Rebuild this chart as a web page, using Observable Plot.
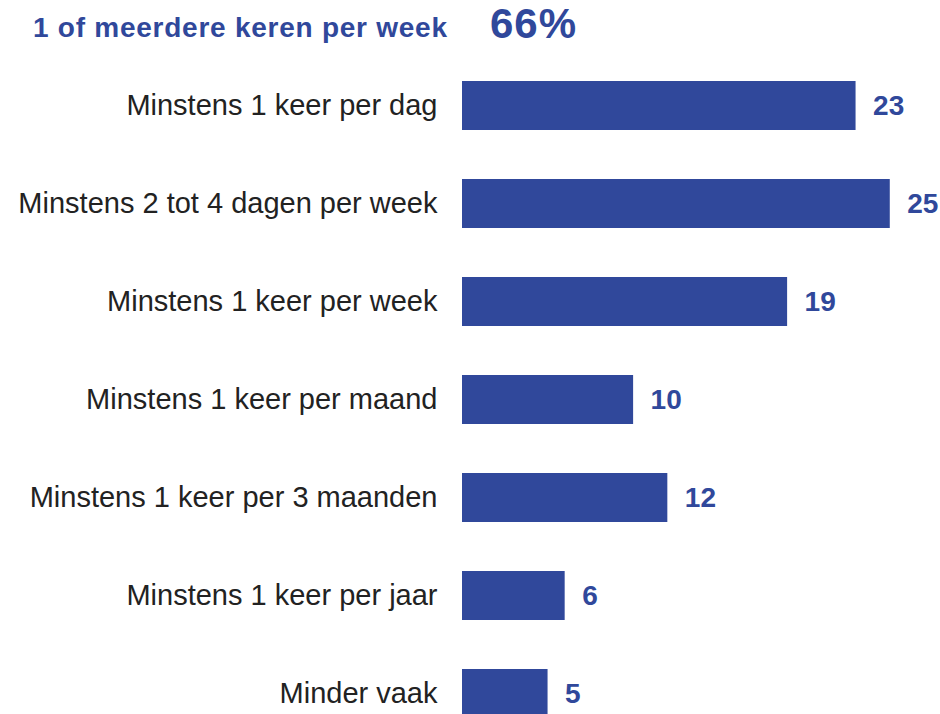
<!DOCTYPE html>
<html>
<head>
<meta charset="utf-8">
<script src="https://cdn.jsdelivr.net/npm/d3@7"></script>
<script src="https://cdn.jsdelivr.net/npm/@observablehq/plot@0.6"></script>
<style>
  html, body { margin: 0; padding: 0; background: #fff; overflow: hidden; }
  #wrap { position: relative; width: 940px; height: 714px; overflow: hidden; font-family: "Liberation Sans", Arial, sans-serif; }
  #title { position: absolute; left: 33px; top: 14px; font-size: 28px; line-height: 1; letter-spacing: 0.75px; font-weight: bold; color: #30489B; white-space: nowrap; }
  #total { position: absolute; left: 490px; top: 3px; font-size: 42px; line-height: 1; letter-spacing: 1px; font-weight: bold; color: #30489B; white-space: nowrap; }
  #chart { position: absolute; left: 0; top: 0; }
</style>
</head>
<body>
<div id="wrap">
  <div id="chart"></div>
  <div id="title">1 of meerdere keren per week</div>
  <div id="total">66%</div>
</div>
<script>
const categories = [
  "Minstens 1 keer per dag",
  "Minstens 2 tot 4 dagen per week",
  "Minstens 1 keer per week",
  "Minstens 1 keer per maand",
  "Minstens 1 keer per 3 maanden",
  "Minstens 1 keer per jaar",
  "Minder vaak"
];
const values = [23, 25, 19, 10, 12, 6, 5];

const data = categories.map((c, i) => ({category: c, value: values[i]}));
const blue = "#30489B";

const chart = Plot.plot({
  width: 940,
  height: 743,
  marginTop: 56,
  marginBottom: 0,
  marginLeft: 462,
  marginRight: 16,
  style: {fontFamily: "'Liberation Sans', Arial, sans-serif", background: "transparent"},
  x: {domain: [0, 27], axis: null},
  y: {domain: categories, paddingInner: 0.505, paddingOuter: 0.2525, label: null},
  marks: [
    Plot.barX(data, {x: "value", y: "category", fill: blue}),
    Plot.text(data, {x: "value", y: "category", text: d => String(d.value), dx: 17, textAnchor: "start", fill: blue, fontSize: 28, fontWeight: "bold"}),
    Plot.axisY({tickSize: 0, tickPadding: 25, fontSize: 29, color: "#222", label: null})
  ]
});
document.getElementById("chart").appendChild(chart);
</script>
</body>
</html>
